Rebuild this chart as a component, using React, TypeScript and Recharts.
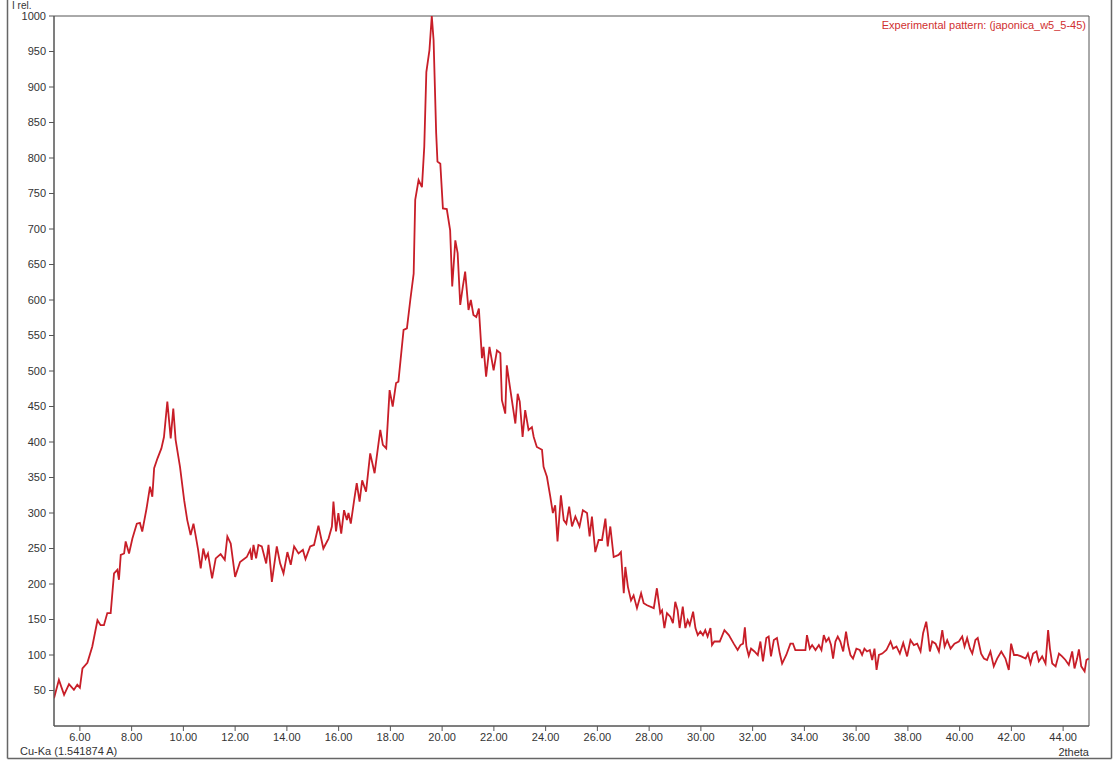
import React from 'react';
import { LineChart, Line, XAxis, YAxis, ReferenceArea } from 'recharts';

const twoTheta: number[] = [
  5.0, 5.19, 5.39, 5.58, 5.77, 5.9, 6.0, 6.1, 6.29, 6.48, 6.68, 6.8, 6.93, 7.06, 7.19, 7.32, 7.45, 7.51, 7.58, 7.71,
  7.77, 7.9, 8.03, 8.2, 8.32, 8.41, 8.58, 8.71, 8.8, 8.87, 9.0, 9.15, 9.25, 9.38, 9.51, 9.61, 9.7, 9.87, 10.03, 10.15,
  10.28, 10.39, 10.48, 10.57, 10.67, 10.77, 10.86, 10.95, 11.11, 11.25, 11.44, 11.6, 11.7, 11.83,
  12.0, 12.19, 12.45, 12.58, 12.64, 12.71, 12.81, 12.9, 13.03, 13.2, 13.29, 13.42, 13.61, 13.74, 13.87, 14.02, 14.15,
  14.28, 14.45, 14.62, 14.72, 14.9, 15.05, 15.22, 15.41, 15.61, 15.74, 15.8, 15.9, 15.99, 16.1, 16.21, 16.32, 16.38,
  16.47, 16.6, 16.7, 16.81, 16.91, 17.06, 17.22, 17.39, 17.61, 17.71, 17.84, 17.97, 18.09, 18.22, 18.31,
  18.51, 18.64, 18.77, 18.9, 18.96, 19.09, 19.22, 19.31, 19.39, 19.51, 19.6, 19.67, 19.77, 19.82, 19.93, 20.03, 20.18,
  20.31, 20.39, 20.51, 20.6, 20.7, 20.8, 20.89, 21.02, 21.11, 21.21, 21.32, 21.42, 21.54, 21.6, 21.7, 21.83, 21.99, 22.12,
  22.25, 22.31, 22.44, 22.5, 22.61, 22.83, 22.92, 23.0, 23.11, 23.21, 23.34, 23.47, 23.54, 23.66, 23.86, 23.92, 24.05,
  24.18, 24.28, 24.37, 24.46, 24.59, 24.7, 24.8, 24.91, 25.02, 25.15, 25.31, 25.44, 25.6, 25.7, 25.79, 25.92, 26.05,
  26.18, 26.31, 26.4, 26.5, 26.63, 26.82, 26.91, 27.02, 27.08, 27.18, 27.3, 27.4, 27.53, 27.69, 27.79, 27.92, 28.18, 28.3,
  28.43, 28.5, 28.59, 28.69, 28.82, 28.92, 29.01, 29.1, 29.18, 29.3, 29.4, 29.49, 29.57, 29.7, 29.79, 29.88, 29.98,
  30.08, 30.17, 30.26, 30.37, 30.43, 30.52, 30.73, 30.91, 31.08, 31.27, 31.42, 31.53, 31.63, 31.7, 31.76, 31.85, 31.94,
  32.07, 32.2, 32.3, 32.4, 32.53, 32.62, 32.71, 32.82, 32.94, 33.05, 33.14, 33.3, 33.46, 33.56, 33.65, 33.85, 34.04,
  34.1, 34.21, 34.3, 34.43, 34.56, 34.66, 34.75, 34.84, 34.94, 35.03, 35.11, 35.2, 35.29, 35.39, 35.5, 35.61, 35.69,
  35.78, 35.88, 36.01, 36.14, 36.23, 36.32, 36.42, 36.53,
  36.62, 36.71, 36.79, 36.88, 37.01, 37.17, 37.33, 37.43, 37.56, 37.69, 37.82, 37.97, 38.1, 38.23, 38.36, 38.49, 38.59,
  38.71, 38.77, 38.85, 38.94, 39.07, 39.2, 39.33, 39.42, 39.52, 39.65, 39.8, 39.97, 40.1, 40.19, 40.29, 40.4, 40.49,
  40.61, 40.7, 40.83, 40.94, 41.06, 41.19, 41.32, 41.45, 41.61, 41.77, 41.9, 41.99, 42.1, 42.22, 42.38, 42.55, 42.64,
  42.74, 42.84, 42.97, 43.06, 43.19, 43.32, 43.42, 43.49, 43.58, 43.71, 43.84, 43.96, 44.09, 44.22, 44.35, 44.44, 44.54,
  44.61, 44.7, 44.83, 44.9, 44.99,
];

const intensity: number[] = [
  39, 65, 44, 59, 51, 58, 54, 81, 89, 112, 149, 142, 142, 159, 159, 215, 220, 206, 241, 243,
  260, 243, 264, 285, 286, 274, 307, 337, 323, 363, 377, 391, 407, 457, 405, 447, 403, 365, 318, 290,
  269, 285, 267, 248, 222, 250, 236, 243, 208, 236, 242, 234, 267, 257,
  210, 231, 238, 248, 234, 255, 236, 255, 253, 229, 255, 203, 253, 229, 215, 245, 227,
  253, 243, 248, 235, 253, 255, 282, 250, 264, 281, 316, 274, 300, 271, 304, 290, 300,
  285, 318, 342, 316, 346, 330, 384, 356, 417, 396, 391, 473, 450, 483, 485,
  558, 560, 600, 637, 741, 769, 759, 816, 921, 952, 1000, 966, 835, 795, 792, 729, 728,
  698, 619, 684, 666, 593, 619, 640, 586, 600, 579, 576, 588, 518, 534, 492, 534, 501, 529,
  525, 459, 440, 508, 480, 426, 468, 457, 407, 445, 417, 421, 407, 393, 389, 365, 351,
  323, 300, 311, 260, 325, 290, 285, 309, 281, 295, 281, 304, 300, 267, 295, 245, 262,
  262, 292, 253, 281, 238, 241, 245, 187, 224, 196, 177, 184, 166, 187, 173, 170, 166, 194,
  159, 163, 138, 159, 154, 145, 175, 163, 138, 168, 138, 149, 142, 161, 138, 128, 133,
  128, 135, 126, 138, 114, 119, 119, 135, 128, 116, 107, 114, 116, 139, 112, 99, 109,
  105, 100, 119, 91, 124, 126, 98, 121, 124, 102, 88, 100, 116, 116, 107, 107, 107,
  128, 109, 114, 107, 114, 107, 128, 119, 124, 114, 95, 119, 126, 119, 105, 133, 114,
  100, 95, 109, 107, 100, 109, 105, 107,
  93, 109, 79, 100, 102, 107, 119, 109, 112, 102, 117, 98, 121, 114, 116, 105, 131,
  147, 131, 105, 119, 116, 105, 135, 112, 121, 109, 116, 119, 126, 112, 124, 109, 102,
  121, 124, 102, 95, 93, 105, 84, 95, 105, 95, 79, 116, 100, 100, 98, 95, 102,
  88, 102, 105, 91, 98, 88, 135, 109, 88, 84, 102, 98, 93, 86, 105, 81, 95,
  108, 84, 77, 93, 95,
];

const xTicks: number[] = [6, 8, 10, 12, 14, 16, 18, 20, 22, 24, 26, 28, 30, 32, 34, 36, 38, 40, 42, 44];
const yTicks: number[] = [50, 100, 150, 200, 250, 300, 350, 400, 450, 500, 550, 600, 650, 700, 750, 800, 850, 900, 950, 1000];

const seriesName = 'Experimental pattern: (japonica_w5_5-45)';
const xAxisTitle = '2theta';
const yAxisTitle = 'I rel.';
const radiationLabel = 'Cu-Ka (1.541874 A)';

const data = twoTheta.map((t, i) => ({ t, v: intensity[i] }));

const FONT = '"Liberation Sans", Arial, Helvetica, sans-serif';

export default function App() {
  return (
    <div
      style={{
        position: 'absolute',
        left: 0,
        top: 0,
        width: 1115,
        height: 765,
        background: '#ffffff',
        fontFamily: FONT,
      }}
    >
      <LineChart
        width={1115}
        height={765}
        data={data}
        margin={{ top: 16, right: 26, bottom: 9, left: 0 }}
        style={{ fontFamily: FONT }}
      >
        <XAxis
          dataKey="t"
          type="number"
          domain={[5, 45]}
          ticks={xTicks}
          interval={0}
          allowDataOverflow
          tickFormatter={(v: number) => v.toFixed(2)}
          tick={{ fontSize: 11, fill: '#333333', fontFamily: FONT }}
          tickSize={5}
          tickMargin={2}
          stroke="#555555"
          height={30}
        />
        <YAxis
          type="number"
          domain={[0, 1000]}
          ticks={yTicks}
          interval={0}
          allowDataOverflow
          width={54}
          tick={{ fontSize: 11, fill: '#333333', fontFamily: FONT }}
          tickSize={5}
          tickMargin={3}
          stroke="#555555"
        />
        <ReferenceArea
          x1={5}
          x2={45}
          y1={0}
          y2={1000}
          fill="none"
          fillOpacity={0}
          stroke="#555555"
          strokeWidth={1}
        />
        <Line
          name={seriesName}
          dataKey="v"
          type="linear"
          stroke="#c81e28"
          strokeWidth={1.8}
          dot={false}
          activeDot={false}
          isAnimationActive={false}
        />
      </LineChart>
      <svg
        width={1115}
        height={765}
        style={{ position: 'absolute', left: 0, top: 0, pointerEvents: 'none', fontFamily: FONT }}
      >
        <line x1={7.5} y1={0} x2={7.5} y2={758.5} stroke="#666666" strokeWidth={1.5} />
        <line x1={7.5} y1={758.5} x2={1111.5} y2={758.5} stroke="#666666" strokeWidth={1.5} />
        <line x1={1111.5} y1={0} x2={1111.5} y2={758.5} stroke="#666666" strokeWidth={1.5} />
        <text x={12} y={8.5} fontSize={10} fill="#333333">{yAxisTitle}</text>
        <text x={20} y={755} fontSize={11} fill="#333333">{radiationLabel}</text>
        <text x={1089} y={756} fontSize={11} fill="#333333" textAnchor="end">{xAxisTitle}</text>
        <text x={1086} y={29} fontSize={11} fill="#d03030" textAnchor="end">{seriesName}</text>
      </svg>
    </div>
  );
}
